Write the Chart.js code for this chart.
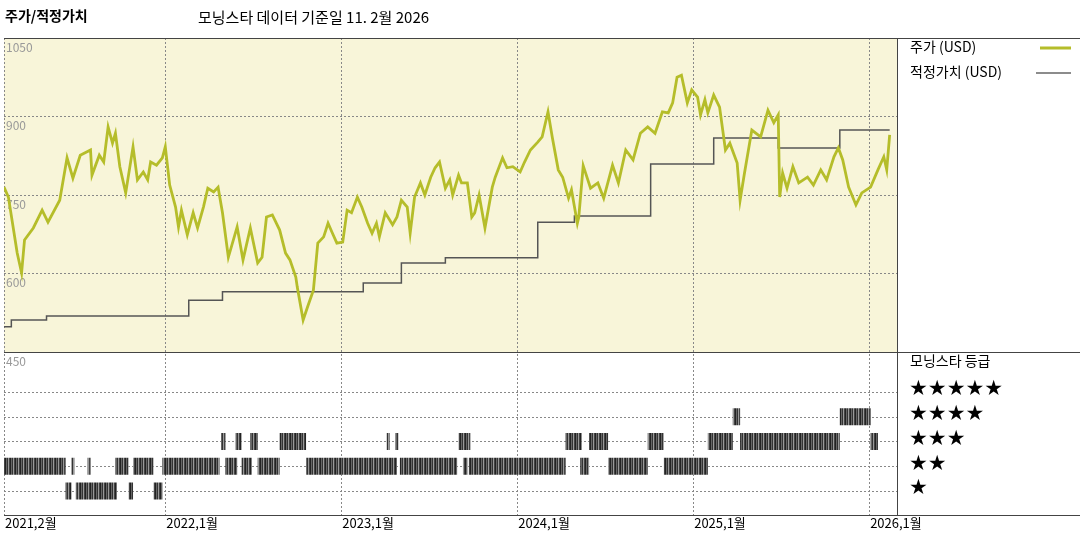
<!DOCTYPE html>
<html><head><meta charset="utf-8">
<script src="https://cdn.jsdelivr.net/npm/chart.js@4/dist/chart.umd.min.js"></script>
<style>html,body{margin:0;padding:0;background:#fff}#w{width:1080px;height:540px}</style>
</head><body><div id="w"><canvas id="c"></canvas></div>
<script>
// months since Feb 2021
const priceMonths = [0.0,0.3,0.9,1.2,1.4,2.0,2.6,3.0,3.8,4.3,4.7,5.2,5.9,6.0,6.5,6.8,7.1,7.4,7.6,7.9,8.3,8.8,9.1,9.5,9.8,10.0,10.4,10.8,11.0,11.3,11.7,11.9,12.1,12.5,12.9,13.2,13.6,13.9,14.3,14.6,14.9,15.3,15.9,16.3,16.8,17.3,17.6,17.9,18.3,18.8,19.2,19.5,19.9,20.0,20.4,20.7,21.1,21.4,21.8,22.1,22.4,22.7,23.1,23.4,23.7,24.1,24.4,24.8,25.1,25.4,25.6,26.0,26.5,26.8,27.1,27.5,27.7,28.0,28.4,28.7,29.1,29.4,29.7,30.1,30.4,30.6,31.0,31.2,31.6,31.9,32.1,32.4,32.8,33.3,33.5,34.0,34.3,34.7,35.2,35.5,35.9,36.4,36.7,37.1,37.4,37.8,38.1,38.5,38.7,39.1,39.2,39.5,40.0,40.5,40.9,41.5,41.9,42.4,42.9,43.4,43.9,44.4,44.9,45.3,45.6,45.9,46.2,46.6,46.9,47.3,47.5,47.8,48.0,48.4,48.8,49.2,49.5,50.0,50.2,50.5,51.0,51.6,52.1,52.5,52.8,52.9,53.1,53.4,53.8,54.2,54.8,55.2,55.7,56.1,56.6,56.9,57.2,57.6,58.1,58.5,59.1,59.6,60.0,60.2,60.4];
const priceValues = [765,746,639,601,664,687,721,698,740,821,782,826,836,788,826,813,880,849,868,804,754,842,779,794,779,813,807,821,842,769,727,689,721,674,716,687,727,763,756,765,716,631,689,626,687,620,631,708,712,683,639,626,593,574,511,536,568,658,670,696,677,658,660,721,716,746,727,696,677,696,670,716,693,708,740,727,677,746,773,750,784,802,813,763,779,750,788,773,773,708,716,750,687,765,784,821,802,804,794,813,836,851,861,909,859,798,784,744,760,696,708,806,763,773,744,807,773,836,817,868,880,868,909,907,926,975,979,926,951,937,903,932,907,941,918,836,849,811,740,792,874,861,912,888,903,746,792,763,804,773,784,769,798,779,823,840,817,765,731,754,765,798,823,798,865];
const fairSteps = [0,0.5,2.9,12.6,14.9,24.5,27.1,30.1,36.4,38.9,44.1,48.4,52.8,57.0,60.4];
const fairValues = [498,511,519,549,565,582,620,630,698,710,809,859,840,874,874];
const ratingLevels = [1,2,3,4];
const ratingSegments = {
  1:[[4.2,4.6],[4.9,7.7],[8.5,8.8],[10.2,10.8]],
  2:[[0,4.2],[4.6,4.8],[5.7,5.9],[7.6,8.5],[8.8,10.2],[10.8,14.7],[15.1,15.9],[16.2,16.9],[17.3,18.8],[20.6,26.8],[27.0,30.9],[31.3,31.6],[31.7,38.3],[39.3,39.9],[41.2,43.9],[45.0,48.0]],
  3:[[14.8,15.1],[15.8,16.2],[16.8,17.3],[18.8,20.6],[26.1,26.3],[26.7,26.9],[31.0,31.8],[38.3,39.4],[39.9,41.2],[43.9,45.0],[48.0,49.7],[50.2,57.0],[59.1,59.6]],
  4:[[49.7,50.2],[57.0,59.1]]
};
const xTickMonths = [0,11,23,35,47,59];
const xTickLabels = ['2021,2월','2022,1월','2023,1월','2024,1월','2025,1월','2026,1월'];
const yTicks = [1050,900,750,600,450];
const starLabels = ['★★★★★','★★★★','★★★','★★','★'];
const title1 = '주가/적정가치', title2 = '모닝스타 데이터 기준일 11. 2월 2026';

const FONT = '"Noto Sans CJK KR", "Noto Sans", sans-serif';
const pc = document.createElement('canvas'); pc.width = 5; pc.height = 1;
const px = pc.getContext('2d');
['#222','#666','#333','#999','#444'].forEach((c,i)=>{px.fillStyle=c;px.fillRect(i,0,1,1);});
const stripe = px.createPattern(pc,'repeat');

const ratingDatasets = ratingLevels.map(r=>{
  const d=[];
  ratingSegments[r].forEach(s=>{d.push({x:s[0],y:r},{x:s[1],y:r},{x:s[1],y:null});});
  return {type:'line',data:d,yAxisID:'y2',borderColor:stripe,borderWidth:17,borderCapStyle:'butt',pointRadius:0,spanGaps:false,tension:0};
});

const deco = {
  id:'deco',
  beforeDatasetsDraw(ch){
    const {ctx,chartArea:a,scales:{x,y}}=ch;
    const yMid=y.getPixelForValue(450);
    ctx.save();
    ctx.fillStyle='#f8f5d9';
    ctx.fillRect(a.left,a.top,a.right-a.left,yMid-a.top);
    ctx.setLineDash([2,2]);ctx.strokeStyle='#888';ctx.lineWidth=1;
    xTickMonths.forEach(m=>{const p=Math.round(x.getPixelForValue(m))+0.5;ctx.beginPath();ctx.moveTo(p,a.top);ctx.lineTo(p,a.bottom);ctx.stroke();});
    [900,750,600].forEach(v=>{const p=Math.round(y.getPixelForValue(v))+0.5;ctx.beginPath();ctx.moveTo(a.left,p);ctx.lineTo(a.right,p);ctx.stroke();});
    const y2=ch.scales.y2;
    [5,4,3,2,1].forEach(r=>{const p=Math.round(y2.getPixelForValue(r))+0.5;ctx.beginPath();ctx.moveTo(a.left,p);ctx.lineTo(a.right,p);ctx.stroke();});
    ctx.setLineDash([]);
    ctx.strokeStyle='#444';
    ctx.beginPath();
    ctx.moveTo(a.left,a.top+0.5);ctx.lineTo(1080,a.top+0.5);
    ctx.moveTo(a.left,Math.round(yMid)+0.5);ctx.lineTo(1080,Math.round(yMid)+0.5);
    ctx.moveTo(a.left,Math.round(a.bottom)+0.5);ctx.lineTo(1080,Math.round(a.bottom)+0.5);
    ctx.moveTo(Math.round(a.right)+0.5,a.top);ctx.lineTo(Math.round(a.right)+0.5,a.bottom);
    ctx.stroke();
    ctx.fillStyle='#999';ctx.font='12px '+FONT;ctx.textBaseline='top';ctx.textAlign='left';
    yTicks.forEach(v=>ctx.fillText(String(v),a.left+2,y.getPixelForValue(v)+3));
    ctx.fillStyle='#000';ctx.font='13px '+FONT;
    xTickMonths.forEach((m,i)=>ctx.fillText(xTickLabels[i],x.getPixelForValue(m)+1,a.bottom+2));
    ctx.font='bold 14px '+FONT;ctx.fillText(title1,5,9);
    ctx.font='15px '+FONT;ctx.fillText(title2,198,10);
    ctx.font='14px '+FONT;
    ctx.fillText('주가 (USD)',910,40);
    ctx.fillText('적정가치 (USD)',910,65);
    ctx.fillText('모닝스타 등급',910,354);
    ctx.strokeStyle='#b5bd2a';ctx.lineWidth=3;ctx.beginPath();ctx.moveTo(1040,48);ctx.lineTo(1071,48);ctx.stroke();
    ctx.strokeStyle='#666';ctx.lineWidth=1.5;ctx.beginPath();ctx.moveTo(1036,73);ctx.lineTo(1071,73);ctx.stroke();
    ctx.fillStyle='#000';ctx.font='21px "DejaVu Sans", sans-serif';ctx.textBaseline='middle';
    starLabels.forEach((s,i)=>ctx.fillText(s,909,y2.getPixelForValue(5-i)-2));
    ctx.restore();
  }
};

new Chart(document.getElementById('c'),{
  type:'line',
  data:{datasets:[
    {data:priceMonths.map((m,i)=>({x:m,y:priceValues[i]})),borderColor:'#b5bd2a',borderWidth:2.8,pointRadius:0,tension:0},
    {data:fairSteps.map((m,i)=>({x:m,y:fairValues[i]})),stepped:'before',borderColor:'#555',borderWidth:1.5,pointRadius:0},
    ...ratingDatasets
  ]},
  options:{
    responsive:true,maintainAspectRatio:false,animation:false,
    layout:{padding:{left:4,top:38,right:183,bottom:25}},
    plugins:{legend:{display:false},tooltip:{enabled:false}},
    scales:{
      x:{type:'linear',min:0,max:60.9,display:false},
      y:{min:138.5,max:1050,display:false},
      y2:{min:0.03,max:19.3,display:false}
    }
  },
  plugins:[deco]
});
</script></body></html>
